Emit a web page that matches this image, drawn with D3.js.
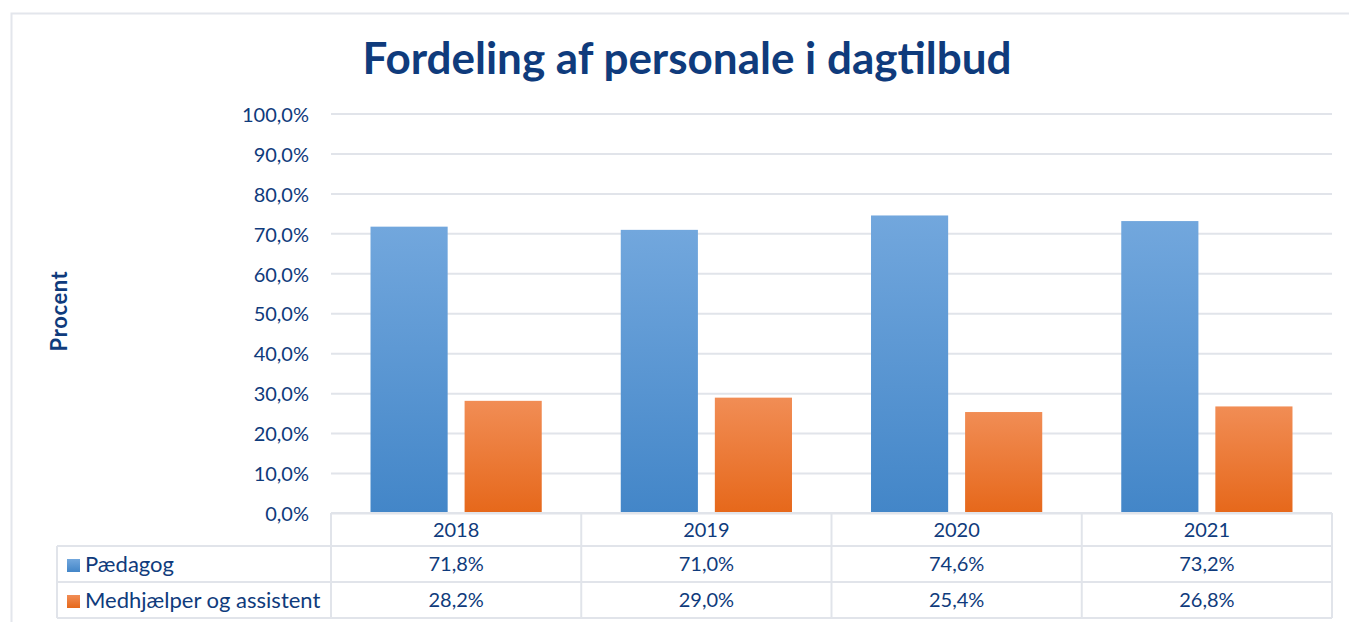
<!DOCTYPE html>
<html>
<head>
<meta charset="utf-8">
<script src="https://cdn.jsdelivr.net/npm/d3@7"></script>
<style>
  body { margin: 0; background: #fff; }
  text { font-family: Lato, "Open Sans", sans-serif; fill: #0F3B7C; }
</style>
</head>
<body>
<div id="chart"></div>
<script>
// data
const years = ["2018", "2019", "2020", "2021"];
const seriesNames = ["Pædagog", "Medhjælper og assistent"];
const paedagog = [71.8, 71.0, 74.6, 73.2];
const medhjaelper = [28.2, 29.0, 25.4, 26.8];
const yTicks = [0, 10, 20, 30, 40, 50, 60, 70, 80, 90, 100];

const width = 1349, height = 622;
const margin = { left: 331, right: 17, top: 114, bottom: 108 };
const txt = "#0F3B7C";
const gridColor = "#E1E4EA";
const fmt = d => d3.format(".1f")(d).replace(".", ",") + "%";

const svg = d3.select("#chart").append("svg")
  .attr("width", width)
  .attr("height", height);

// gradients
const defs = svg.append("defs");
function grad(id, top, bottom) {
  const g = defs.append("linearGradient").attr("id", id)
    .attr("x1", 0).attr("y1", 0).attr("x2", 0).attr("y2", 1);
  g.append("stop").attr("offset", "0%").attr("stop-color", top);
  g.append("stop").attr("offset", "100%").attr("stop-color", bottom);
}
grad("gBlue", "#72A7DD", "#4386C8");
grad("gOrange", "#F18D55", "#E6681B");
const fills = ["url(#gBlue)", "url(#gOrange)"];

// outer frame
svg.append("rect")
  .attr("x", 11.5).attr("y", 13.5)
  .attr("width", 1360).attr("height", 640)
  .attr("fill", "none").attr("stroke", "#E3E6EC").attr("stroke-width", 2);

// title
svg.append("text")
  .attr("x", 687).attr("y", 74)
  .attr("text-anchor", "middle")
  .attr("font-size", 44).attr("font-weight", "bold")
  .text("Fordeling af personale i dagtilbud");

const x = d3.scaleBand()
  .domain(years)
  .range([margin.left, width - margin.right]);

const y = d3.scaleLinear()
  .domain([0, 100])
  .range([513.5, margin.top]);

const xInner = d3.scaleBand()
  .domain([0, 1])
  .range([0, x.bandwidth()])
  .paddingInner(0.18)
  .paddingOuter(0.42);

// gridlines
svg.append("g")
  .selectAll("line")
  .data(yTicks)
  .join("line")
  .attr("x1", margin.left).attr("x2", width - margin.right)
  .attr("y1", d => y(d)).attr("y2", d => y(d))
  .attr("stroke", gridColor).attr("stroke-width", 2);

// y axis labels
const yAxis = svg.append("g")
  .attr("transform", `translate(${margin.left - 16},0)`)
  .call(d3.axisLeft(y).tickValues(yTicks).tickFormat(fmt).tickSize(0).tickPadding(6));
yAxis.select(".domain").remove();
yAxis.selectAll("text")
  .attr("font-size", 20)
  .attr("fill", txt)
  .style("font-family", "Lato, sans-serif")
  .attr("dy", "0.36em");

// y title
svg.append("text")
  .attr("transform", "translate(67,311) rotate(-90)")
  .attr("text-anchor", "middle")
  .attr("font-size", 22).attr("font-weight", "bold")
  .attr("letter-spacing", 0.6)
  .text("Procent");

// bars
const series = [paedagog, medhjaelper];
series.forEach((vals, si) => {
  svg.append("g")
    .selectAll("rect")
    .data(vals)
    .join("rect")
    .attr("x", (d, i) => x(years[i]) + xInner(si))
    .attr("width", xInner.bandwidth())
    .attr("y", d => y(d))
    .attr("height", d => y(0) - y(d) - 1.5)
    .attr("fill", fills[si]);
});

// data table
const rowH = [33, 36, 36];
const tTop = 513;
const labelLeft = 57;
const tRight = width - margin.right;
const tbl = svg.append("g");
const rowTop = [tTop, tTop + rowH[0], tTop + rowH[0] + rowH[1]];
const tBottom = rowTop[2] + rowH[2];

// horizontal lines
tbl.append("line").attr("x1", margin.left).attr("x2", tRight)
  .attr("y1", rowTop[0]).attr("y2", rowTop[0]);
[rowTop[1], rowTop[2], tBottom].forEach(yy => {
  tbl.append("line").attr("x1", labelLeft).attr("x2", tRight)
    .attr("y1", yy).attr("y2", yy);
});
// vertical lines
tbl.append("line").attr("x1", labelLeft).attr("x2", labelLeft)
  .attr("y1", rowTop[1]).attr("y2", tBottom);
const vx = years.map(d => x(d)).concat([tRight]);
vx.forEach(xx => {
  tbl.append("line").attr("x1", xx).attr("x2", xx)
    .attr("y1", rowTop[0]).attr("y2", tBottom);
});
tbl.selectAll("line").attr("stroke", gridColor).attr("stroke-width", 2);

// header years
tbl.selectAll("text.yr")
  .data(years)
  .join("text")
  .attr("class", "yr")
  .attr("x", d => x(d) + x.bandwidth() / 2)
  .attr("y", rowTop[0] + rowH[0] / 2)
  .attr("dy", "0.36em")
  .attr("text-anchor", "middle")
  .attr("font-size", 20)
  .text(d => d);

// rows
series.forEach((vals, si) => {
  const cy = rowTop[si + 1] + rowH[si + 1] / 2;
  tbl.append("rect")
    .attr("x", 67).attr("y", cy - 5)
    .attr("width", 13).attr("height", 13)
    .attr("fill", fills[si]);
  tbl.append("text")
    .attr("x", 85).attr("y", cy)
    .attr("dy", "0.36em")
    .attr("font-size", 22)
    .text(seriesNames[si]);
  tbl.append("g").selectAll("text")
    .data(vals)
    .join("text")
    .attr("x", (d, i) => x(years[i]) + x.bandwidth() / 2)
    .attr("y", cy)
    .attr("dy", "0.36em")
    .attr("text-anchor", "middle")
    .attr("font-size", 20)
    .text(fmt);
});
</script>
</body>
</html>
